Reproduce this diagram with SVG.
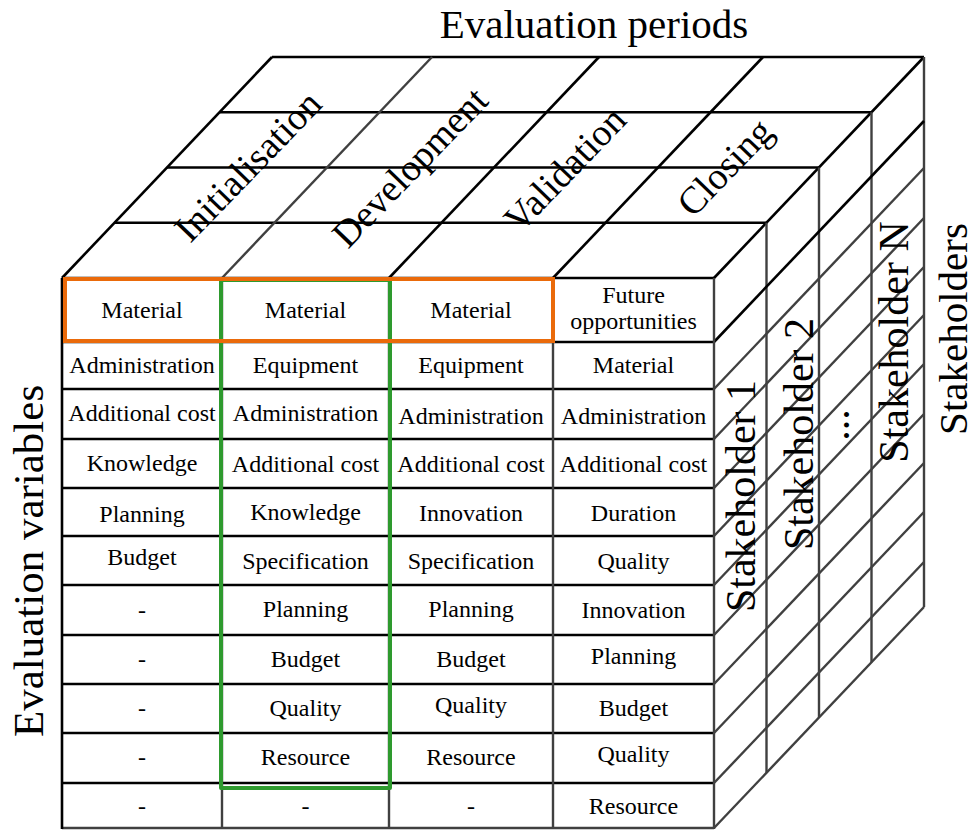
<svg xmlns="http://www.w3.org/2000/svg" width="976" height="830" viewBox="0 0 976 830" font-family="'Liberation Serif', 'DejaVu Serif', serif">
<style>
  .k { stroke:#000; stroke-width:2.6; fill:none; }
  .g { stroke:#404040; stroke-width:2.4; fill:none; }
  text { font-family:'Liberation Serif', 'DejaVu Serif', serif; fill:#000; text-anchor:middle; }
  .cell { font-size:24px; }
  .big { font-size:41px; }
  .sh { font-size:42px; }
  .phase { font-size:38px; }
</style>
<rect width="976" height="830" fill="#fff"/>

<g id="connectors">
  <line class="k" x1="62" y1="278" x2="714" y2="278"/>
  <line class="k" x1="114.5" y1="222.75" x2="766.5" y2="222.75"/>
  <line class="k" x1="167" y1="167.5" x2="819" y2="167.5"/>
  <line class="k" x1="219.5" y1="112.25" x2="871.5" y2="112.25"/>
  <line class="k" x1="272" y1="57" x2="924" y2="57"/>
  <line class="k" x1="62" y1="278" x2="272" y2="57"/>
  <line class="g" x1="222" y1="278" x2="432" y2="57"/>
  <line class="k" x1="389" y1="278" x2="599" y2="57"/>
  <line class="k" x1="553" y1="278" x2="763" y2="57"/>
  <line class="k" x1="714" y1="278" x2="924" y2="57"/>
  <line class="g" x1="766.5" y1="222.75" x2="766.5" y2="772.75"/>
  <line class="g" x1="819" y1="167.5" x2="819" y2="717.5"/>
  <line class="g" x1="871.5" y1="112.25" x2="871.5" y2="662.25"/>
  <line class="g" x1="924" y1="57" x2="924" y2="607"/>
  <line class="k" x1="714" y1="342" x2="924" y2="121"/>
  <line class="g" x1="714" y1="389" x2="924" y2="168"/>
  <line class="g" x1="714" y1="439" x2="924" y2="218"/>
  <line class="g" x1="714" y1="488" x2="924" y2="267"/>
  <line class="g" x1="714" y1="536" x2="924" y2="315"/>
  <line class="g" x1="714" y1="585" x2="924" y2="364"/>
  <line class="g" x1="714" y1="635" x2="924" y2="414"/>
  <line class="g" x1="714" y1="684" x2="924" y2="463"/>
  <line class="g" x1="714" y1="733" x2="924" y2="512"/>
  <line class="g" x1="714" y1="783" x2="924" y2="562"/>
  <line class="g" x1="714" y1="828" x2="924" y2="607"/>
  <line class="k" x1="62" y1="342" x2="714" y2="342"/>
  <line class="k" x1="62" y1="389" x2="714" y2="389"/>
  <line class="k" x1="62" y1="439" x2="714" y2="439"/>
  <line class="k" x1="62" y1="488" x2="714" y2="488"/>
  <line class="k" x1="62" y1="536" x2="714" y2="536"/>
  <line class="k" x1="62" y1="585" x2="714" y2="585"/>
  <line class="k" x1="62" y1="635" x2="714" y2="635"/>
  <line class="k" x1="62" y1="684" x2="714" y2="684"/>
  <line class="k" x1="62" y1="733" x2="714" y2="733"/>
  <line class="k" x1="62" y1="783" x2="714" y2="783"/>
  <line class="g" x1="62" y1="828" x2="714" y2="828"/>
  <line class="k" x1="62" y1="278" x2="62" y2="829"/>
  <line class="g" x1="222" y1="278" x2="222" y2="829"/>
  <line class="g" x1="389" y1="278" x2="389" y2="829"/>
  <line class="g" x1="553" y1="278" x2="553" y2="829"/>
  <line class="g" x1="714" y1="278" x2="714" y2="829"/>
</g>

<g id="highlight-green">
  <rect x="221" y="280" width="169" height="508" fill="none" stroke="#2e9a2e" stroke-width="4" stroke-linejoin="round"/>
</g>
<g id="highlight-orange">
  <rect x="65" y="279" width="488" height="62" fill="none" stroke="#ea6a0a" stroke-width="4"/>
</g>

<g id="title"><text class="big" x="594" y="38">Evaluation periods</text></g>
<g id="label-variables"><text class="big" style="font-size:43px" transform="translate(43,561) rotate(-90)">Evaluation variables</text></g>
<g id="label-stakeholders"><text class="big" transform="translate(967,329) rotate(-90)">Stakeholders</text></g>

<g id="phase-initialisation"><text class="phase" transform="translate(257,175) rotate(-46)">Initialisation</text></g>
<g id="phase-development"><text class="phase" transform="translate(419,176) rotate(-46)">Development</text></g>
<g id="phase-validation"><text class="phase" transform="translate(574,178) rotate(-46)">Validation</text></g>
<g id="phase-closing"><text class="phase" transform="translate(734,176) rotate(-46)">Closing</text></g>

<g id="stakeholder-1"><text class="sh" transform="translate(755,496) rotate(-90)">Stakeholder 1</text></g>
<g id="stakeholder-2"><text class="sh" transform="translate(813,434) rotate(-90)">Stakeholder 2</text></g>
<g id="stakeholder-dots"><text class="sh" transform="translate(849,425) rotate(-90)">...</text></g>
<g id="stakeholder-n"><text class="sh" transform="translate(908,342) rotate(-90)">Stakeholder N</text></g>

<g id="col-initialisation">
  <text class="cell" x="142" y="318">Material</text>
  <text class="cell" x="142" y="373">Administration</text>
  <text class="cell" x="142" y="421">Additional cost</text>
  <text class="cell" x="142" y="471">Knowledge</text>
  <text class="cell" x="142" y="522">Planning</text>
  <text class="cell" x="142" y="565">Budget</text>
  <text class="cell" x="142" y="618">-</text>
  <text class="cell" x="142" y="667">-</text>
  <text class="cell" x="142" y="716">-</text>
  <text class="cell" x="142" y="765">-</text>
  <text class="cell" x="142" y="814">-</text>
</g>
<g id="col-development">
  <text class="cell" x="305.5" y="318">Material</text>
  <text class="cell" x="305.5" y="373">Equipment</text>
  <text class="cell" x="305.5" y="421">Administration</text>
  <text class="cell" x="305.5" y="472">Additional cost</text>
  <text class="cell" x="305.5" y="520">Knowledge</text>
  <text class="cell" x="305.5" y="569">Specification</text>
  <text class="cell" x="305.5" y="617">Planning</text>
  <text class="cell" x="305.5" y="667">Budget</text>
  <text class="cell" x="305.5" y="716">Quality</text>
  <text class="cell" x="305.5" y="765">Resource</text>
  <text class="cell" x="305.5" y="814">-</text>
</g>
<g id="col-validation">
  <text class="cell" x="471" y="318">Material</text>
  <text class="cell" x="471" y="373">Equipment</text>
  <text class="cell" x="471" y="424">Administration</text>
  <text class="cell" x="471" y="472">Additional cost</text>
  <text class="cell" x="471" y="521">Innovation</text>
  <text class="cell" x="471" y="569">Specification</text>
  <text class="cell" x="471" y="617">Planning</text>
  <text class="cell" x="471" y="667">Budget</text>
  <text class="cell" x="471" y="713">Quality</text>
  <text class="cell" x="471" y="765">Resource</text>
  <text class="cell" x="471" y="814">-</text>
</g>
<g id="col-closing">
  <text class="cell" x="633.5" y="303">Future</text>
  <text class="cell" x="633.5" y="329">opportunities</text>
  <text class="cell" x="633.5" y="373">Material</text>
  <text class="cell" x="633.5" y="424">Administration</text>
  <text class="cell" x="633.5" y="472">Additional cost</text>
  <text class="cell" x="633.5" y="521">Duration</text>
  <text class="cell" x="633.5" y="569">Quality</text>
  <text class="cell" x="633.5" y="618">Innovation</text>
  <text class="cell" x="633.5" y="664">Planning</text>
  <text class="cell" x="633.5" y="716">Budget</text>
  <text class="cell" x="633.5" y="762">Quality</text>
  <text class="cell" x="633.5" y="814">Resource</text>
</g>
</svg>
